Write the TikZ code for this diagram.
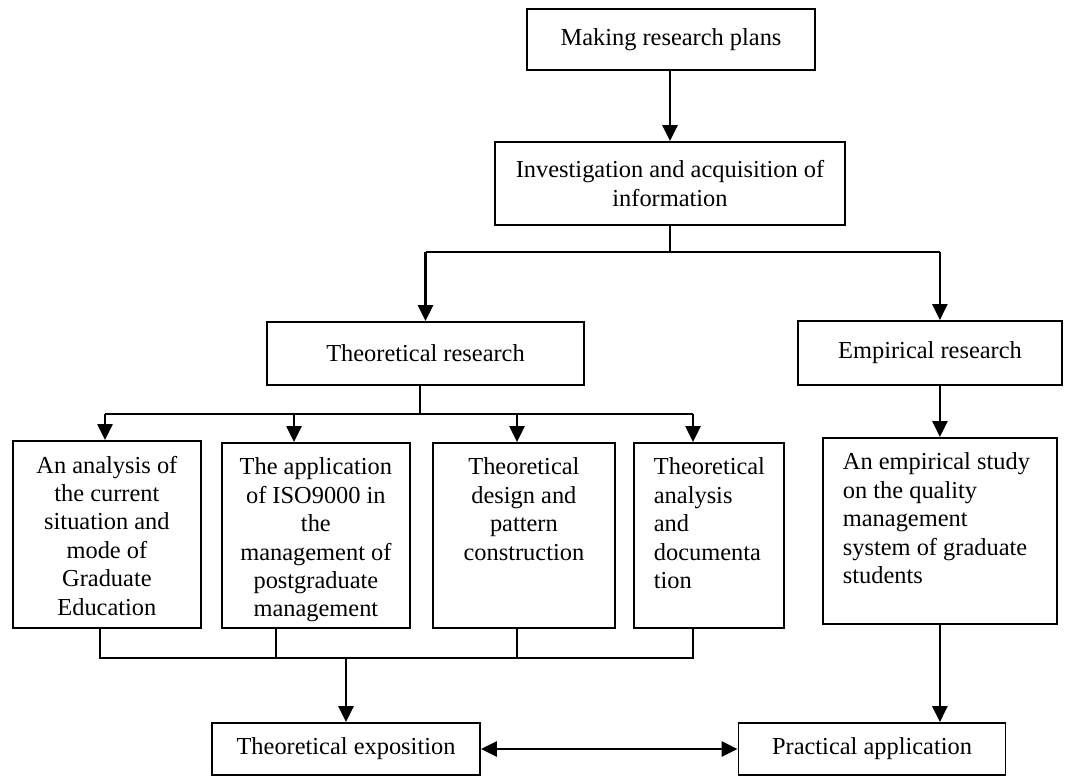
\documentclass[tikz,border=0pt]{standalone}
\usepackage{fontspec}
\setmainfont{Liberation Serif}
\usetikzlibrary{arrows.meta,positioning}
\newcommand{\topcell}[3]{\parbox[c][#1][t]{#2}{#3}}
\tikzset{
  box/.style={draw,line width=1.8pt,inner sep=0pt,align=center,font=\fontsize{24.4}{28.4}\selectfont},
  cell/.style={box,anchor=north west,inner xsep=10pt,inner ysep=15pt},
  ar/.style={-{Triangle[length=16pt,width=15pt]},line width=2.6pt},
  dar/.style={{Triangle[length=16pt,width=15pt]}-{Triangle[length=16pt,width=15pt]},line width=2.6pt},
  ln/.style={line width=1.6pt},
}

\begin{document}
\begin{tikzpicture}[x=1pt,y=-1pt]
\useasboundingbox (0,0) rectangle (1071,776);
% upper chain
\node[box,minimum width=288pt,minimum height=61pt] (plan) at (671,39.5) {Making research plans};
\node[box,minimum width=350pt,minimum height=83pt] (info) at (670,183.5) {Investigation and acquisition of\\information};
\node[box,minimum width=317pt,minimum height=63pt] (theo) at (425.5,353.5) {Theoretical research};
\node[box,minimum width=264pt,minimum height=64pt] (emp) at (930,353) {Empirical research};
% tall cells
\node[cell] (cur) at (12,440) {\topcell{157pt}{168pt}{\centering An analysis of\\the current\\situation and\\mode of\\Graduate\\Education}};
\node[cell] (iso) at (221,442) {\topcell{155pt}{168pt}{\centering The application\\of ISO9000 in\\the\\management of\\postgraduate\\management}};
\node[cell] (des) at (432,442) {\topcell{155pt}{162pt}{\centering Theoretical\\design and\\pattern\\construction}};
\node[cell,inner xsep=20pt] (doc) at (633,442) {\topcell{155pt}{110pt}{\raggedright Theoretical\\analysis\\and\\documenta\\tion}};
\node[cell,inner xsep=20pt] (study) at (822,437) {\topcell{156pt}{194pt}{\raggedright An empirical study\\on the quality\\management\\system of graduate\\students}};
% bottom row
\node[box,minimum width=268pt,minimum height=52pt] (expo) at (346,749) {Theoretical exposition};
\node[box,minimum width=267pt,minimum height=52pt] (prac) at (872,749) {Practical application};
% junctions
\coordinate (j1) at (670,252);
\coordinate (tb) at (420,414);
\coordinate (t1) at (105,414);
\coordinate (t2) at (294,414);
\coordinate (t3) at (517,414);
\coordinate (t4) at (693,414);
\coordinate (d1) at (100,658);
\coordinate (d2) at (276,658);
\coordinate (d3) at (517,658);
\coordinate (d4) at (693,658);
% connectors
\draw[ar] (plan.south -| info.north) -- (info.north);
\draw[ln] (info.south -| j1) -- (j1);
\draw[ln] (theo.north |- j1) -- (study.north |- j1);
\draw[ar] (theo.north |- j1) -- (theo.north);
\draw[ar] (study.north |- j1) -- (study.north |- emp.north);
\draw[ln] (theo.south -| tb) -- (tb);
\draw[ln] (t1) -- (t4);
\foreach \t/\c in {t1/cur,t2/iso,t3/des,t4/doc}
  \draw[ar] (\t) -- (\t |- \c.north);
\draw[ar] (study.north |- emp.south) -- (study.north);
\draw[ln] (d1 |- cur.south) -- (d1) -- (d4) -- (d4 |- doc.south);
\draw[ln] (d2 |- iso.south) -- (d2);
\draw[ln] (d3 |- des.south) -- (d3);
\draw[ar] (expo.north |- d1) -- (expo.north);
\draw[ar] (study.south) -- (study.south |- prac.north);
\draw[dar] (expo.east) -- (prac.west);
\end{tikzpicture}
\end{document}
